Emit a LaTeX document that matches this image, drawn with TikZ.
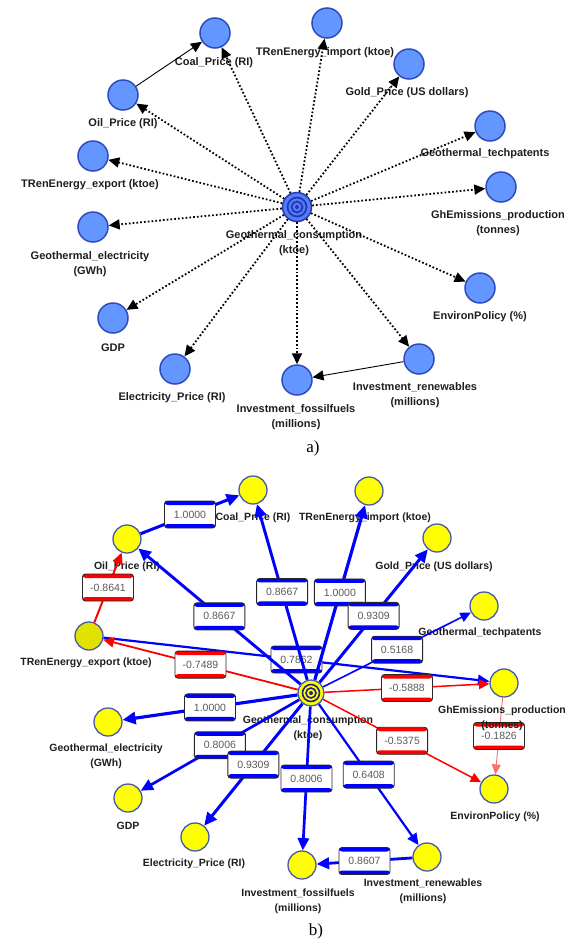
\documentclass[tikz,border=0pt]{standalone}
\usepackage{fontspec}
\setmainfont{Liberation Sans}
\newfontfamily\capfont{Liberation Serif}
\usetikzlibrary{arrows.meta}
\definecolor{nodeA}{RGB}{100,150,255}
\definecolor{lineA}{RGB}{45,75,190}
\definecolor{cenA}{RGB}{85,125,245}
\definecolor{ringA}{RGB}{35,55,185}
\definecolor{nodeB}{RGB}{255,255,0}
\definecolor{nodeBd}{RGB}{226,226,0}
\definecolor{lineB}{RGB}{70,90,170}
\definecolor{ringB}{RGB}{35,35,130}
\definecolor{eblue}{RGB}{0,0,255}
\definecolor{ered}{RGB}{255,0,0}
\definecolor{epink}{RGB}{255,110,110}
\definecolor{numgrey}{RGB}{90,90,90}
\definecolor{boxline}{RGB}{40,40,40}
\definecolor{txt}{RGB}{30,30,30}
\tikzset{
  ca/.style={circle, draw=lineA, fill=nodeA, line width=1.5pt, minimum size=30pt, inner sep=0pt},
  cb/.style={circle, draw=lineB, fill=nodeB, line width=1.3pt, minimum size=28pt, inner sep=0pt},
  centA/.style={circle, draw=ringA, fill=cenA, line width=1.5pt, minimum size=29pt, inner sep=0pt,
    path picture={\draw[ringA, line width=1.8pt] (path picture bounding box.center) circle (9.5pt) circle (5.5pt);
      \fill[ringA] (path picture bounding box.center) circle (2pt);}},
  centB/.style={circle, draw=lineB, fill=nodeB, line width=1.3pt, minimum size=26pt, inner sep=0pt,
    path picture={\draw[ringB, line width=1.6pt] (path picture bounding box.center) circle (8.5pt) circle (5pt);
      \fill[ringB] (path picture bounding box.center) circle (2pt);}},
  lbla/.style={font=\bfseries\fontsize{11}{15}\selectfont, align=center, inner sep=0pt, text=txt},
  lblb/.style={font=\bfseries\fontsize{10.5}{15}\selectfont, align=center, inner sep=0pt, text=txt},
  capt/.style={font=\capfont\fontsize{17}{18}\selectfont, inner sep=0pt},
  dotedge/.style={line width=1.8pt, dash pattern=on 1.7pt off 2.1pt, -{Triangle[length=11pt,width=10pt]}},
  soledge/.style={line width=0.9pt, -{Triangle[length=11pt,width=10pt]}},
  wbox/.style={draw=boxline, line width=0.9pt, fill=white, rounded corners=3pt,
    minimum width=51pt, minimum height=27pt, inner sep=0pt, text=numgrey,
    font=\fontsize{10.5}{12}\selectfont,
    path picture={\fill[#1] (path picture bounding box.north west) rectangle ([yshift=-4pt]path picture bounding box.north east);
      \fill[#1] (path picture bounding box.south west) rectangle ([yshift=4pt]path picture bounding box.south east);}},
}
\newcommand\bedge[5]{%
  \pgfmathsetmacro\alen{8+1.6*#4}%
  \pgfmathsetmacro\awid{0.92*\alen}%
  \draw[#3, line width=#4pt, -{Triangle[length=\alen pt,width=\awid pt]}] (#1) -- node[wbox=#3]{#5} (#2);}
\begin{document}
\begin{tikzpicture}[x=1pt,y=-1pt]
\useasboundingbox (0,0) rectangle (578,943);
% ---------------- panel a ----------------
\node[ca] (acoal) at (215,33) {};
\node[ca] (aoil) at (123,95) {};
\node[ca] (atrex) at (93,156) {};
\node[ca] (atrim) at (327,23) {};
\node[ca] (agold) at (409,64) {};
\node[ca] (atech) at (490,126) {};
\node[ca] (agh) at (501,187) {};
\node[centA] (ac) at (297,207) {};
\node[ca] (agel) at (93,227) {};
\node[ca] (agdp) at (113,318) {};
\node[ca] (aelp) at (175,369) {};
\node[ca] (aif) at (297,380) {};
\node[ca] (air) at (419,359) {};
\node[ca] (aenv) at (480,288) {};
\node[lbla] (la-coal) at (214,63) {Coal\_Price (RI)};
\node[lbla] (la-oil) at (123,124) {Oil\_Price (RI)};
\node[lbla] (la-trex) at (90,185) {TRenEnergy\_export (ktoe)};
\node[lbla] (la-trim) at (325,53) {TRenEnergy\_import (ktoe)};
\node[lbla] (la-gold) at (407,93) {Gold\_Price (US dollars)};
\node[lbla] (la-tech) at (485,154) {Geothermal\_techpatents};
\node[lbla] (la-gh) at (498,223) {GhEmissions\_production\\(tonnes)};
\node[lbla] (la-c) at (294,243.5) {Geothermal\_consumption\\(ktoe)};
\node[lbla] (la-gel) at (90,264) {Geothermal\_electricity\\(GWh)};
\node[lbla] (la-gdp) at (113,348) {GDP};
\node[lbla] (la-elp) at (172,398) {Electricity\_Price (RI)};
\node[lbla] (la-if) at (296,417) {Investment\_fossilfuels\\(millions)};
\node[lbla] (la-ir) at (415,395.5) {Investment\_renewables\\(millions)};
\node[lbla] (la-env) at (480,317) {EnvironPolicy (\%)};
\node[capt] (capa) at (313,448) {a)};
\foreach \t in {coal,oil,trex,gel,gdp,elp,if,ir,env,gh,tech,gold,trim}
  \draw[dotedge] (ac) -- (a\t);
\draw[soledge] (aoil) -- (acoal);
\draw[soledge] (air) -- (aif);
% ---------------- panel b ----------------
\node[cb] (bcoal) at (253,490) {};
\node[cb] (boil) at (127,539) {};
\node[cb, fill=nodeBd] (btrex) at (89,636) {};
\node[cb] (btrim) at (369,491) {};
\node[cb] (bgold) at (437,538) {};
\node[cb] (btech) at (484,606) {};
\node[cb] (bgh) at (504,683) {};
\node[centB] (bc) at (311,693) {};
\node[cb] (bgel) at (108,722) {};
\node[cb] (bgdp) at (128,798) {};
\node[cb] (belp) at (195,837) {};
\node[cb] (bif) at (302,865) {};
\node[cb] (bir) at (427,857) {};
\node[cb] (benv) at (494,789) {};
\node[lblb] (lb-coal) at (253,518) {Coal\_Price (RI)};
\node[lblb] (lb-oil) at (127,567) {Oil\_Price (RI)};
\node[lblb] (lb-trex) at (86,663) {TRenEnergy\_export (ktoe)};
\node[lblb] (lb-trim) at (365,518) {TRenEnergy\_import (ktoe)};
\node[lblb] (lb-gold) at (434,567) {Gold\_Price (US dollars)};
\node[lblb] (lb-tech) at (480,633) {Geothermal\_techpatents};
\node[lblb] (lb-c) at (308,728) {Geothermal\_consumption\\(ktoe)};
\node[lblb] (lb-gel) at (106,756.5) {Geothermal\_electricity\\(GWh)};
\node[lblb] (lb-gdp) at (128,826) {GDP};
\node[lblb] (lb-elp) at (194,864) {Electricity\_Price (RI)};
\node[lblb] (lb-if) at (298,901) {Investment\_fossilfuels\\(millions)};
\node[lblb] (lb-ir) at (423,891.5) {Investment\_renewables\\(millions)};
\node[lblb] (lb-env) at (495,817) {EnvironPolicy (\%)};
\node[capt] (capb) at (316,931) {b)};
\bedge{btrex}{bgh}{eblue}{2.2}{0.7862}
\bedge{boil}{bcoal}{eblue}{3.0}{1.0000}
\bedge{btrex}{boil}{ered}{2.0}{-0.8641}
\bedge{bc}{boil}{eblue}{2.9}{0.8667}
\bedge{bc}{bcoal}{eblue}{2.9}{0.8667}
\bedge{bc}{btrex}{ered}{1.8}{-0.7489}
\bedge{bc}{btrim}{eblue}{3.2}{1.0000}
\bedge{bc}{bgold}{eblue}{3.0}{0.9309}
\bedge{bc}{btech}{eblue}{1.6}{0.5168}
\bedge{bc}{bgh}{ered}{1.5}{-0.5888}
\bedge{bc}{benv}{ered}{1.5}{-0.5375}
\bedge{bc}{bgel}{eblue}{3.2}{1.0000}
\bedge{bc}{bgdp}{eblue}{2.7}{0.8006}
\bedge{bc}{belp}{eblue}{3.0}{0.9309}
\bedge{bc}{bif}{eblue}{2.7}{0.8006}
\bedge{bc}{bir}{eblue}{2.2}{0.6408}
\bedge{bir}{bif}{eblue}{2.8}{0.8607}
\draw[epink, line width=0.9pt, -{Triangle[length=10pt,width=9pt]}] (bgh) -- node[wbox=ered]{-0.1826} (benv);
\node[lblb] (lb-gh) at (502,718.5) {GhEmissions\_production\\(tonnes)};
\end{tikzpicture}
\end{document}
